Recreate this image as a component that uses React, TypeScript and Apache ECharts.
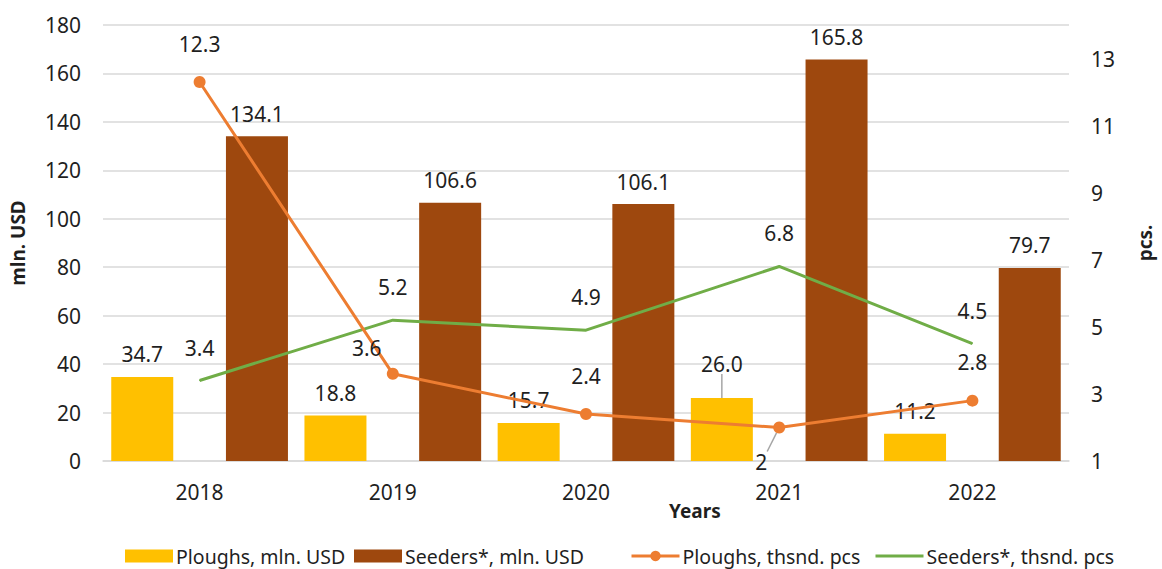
import React, { useEffect, useRef } from "react";
import * as echarts from "echarts";

const years = ["2018", "2019", "2020", "2021", "2022"];
const ploughsUsd = [34.7, 18.8, 15.7, 26.0, 11.2];
const seedersUsd = [134.1, 106.6, 106.1, 165.8, 79.7];
const ploughsPcs = [12.3, 3.6, 2.4, 2, 2.8];
const seedersPcs = [3.4, 5.2, 4.9, 6.8, 4.5];

const FONT = "Noto Sans";
const TXT = "#1f1f1f";

export default function App() {
  const ref = useRef<HTMLDivElement>(null);
  useEffect(() => {
    const chart = echarts.init(ref.current!, null, { renderer: "svg" });
    const lbl = { color: TXT, fontSize: 21, fontFamily: FONT };
    const legendText = { fontSize: 19.5, color: TXT, fontFamily: FONT, padding: [0, 0, 0, -2] };
    const mkLegend = (name: string, left: number, extra: any = {}) => ({
      bottom: 3,
      left,
      padding: 0,
      itemWidth: 48,
      itemHeight: 13,
      textStyle: legendText,
      lineStyle: { width: 3 },
      data: [{ name, ...extra }],
    });
    chart.setOption({
      animation: false,
      textStyle: { fontFamily: FONT },
      grid: { left: 100, right: 82, top: 25, bottom: 108 },
      legend: [
        mkLegend("Ploughs, mln. USD", 125, { icon: "rect" }),
        mkLegend("Seeders*, mln. USD", 354, { icon: "rect" }),
        mkLegend("Ploughs, thsnd. pcs", 630),
        mkLegend("Seeders*, thsnd. pcs", 874, { itemStyle: { opacity: 0 } }),
      ],
      xAxis: {
        type: "category",
        data: years,
        axisTick: { show: false },
        axisLine: { lineStyle: { color: "#d9d9d9", width: 1.5 } },
        axisLabel: { ...lbl, margin: 20 },
      },
      yAxis: [
        {
          type: "value",
          min: 0,
          max: 180,
          interval: 20,
          name: "mln. USD",
          nameLocation: "middle",
          nameRotate: 90,
          nameGap: 76,
          nameTextStyle: { fontSize: 19, fontWeight: "bold", color: TXT, fontFamily: FONT },
          axisLabel: { ...lbl, margin: 22 },
          splitLine: { lineStyle: { color: "#d9d9d9", width: 1.5 } },
          axisLine: { show: false },
          axisTick: { show: false },
        },
        {
          type: "value",
          min: 1,
          max: 14,
          interval: 2,
          name: "pcs.",
          nameLocation: "middle",
          nameRotate: 90,
          nameGap: 66,
          nameTextStyle: { fontSize: 19, fontWeight: "bold", color: TXT, fontFamily: FONT },
          axisLabel: { ...lbl, margin: 22, showMaxLabel: false },
          splitLine: { show: false },
          axisLine: { show: false },
          axisTick: { show: false },
        },
      ],
      series: [
        {
          name: "Ploughs, mln. USD",
          type: "bar",
          data: ploughsUsd.map((v, i) =>
            i === 3
              ? {
                  value: v,
                  labelLine: { show: true, lineStyle: { color: "#a6a6a6", width: 1.5 } },
                }
              : v
          ),
          labelLayout: (p: any) => (p.dataIndex === 3 ? { dy: -12 } : {}),
          itemStyle: { color: "#FFC000" },
          barWidth: 62,
          barGap: "85%",
          label: { show: true, position: "top", distance: 12, formatter: (p: any) => p.value.toFixed(1), ...lbl },
          z: 2,
        },
        {
          name: "Seeders*, mln. USD",
          type: "bar",
          data: seedersUsd,
          itemStyle: { color: "#9E480E" },
          barWidth: 62,
          label: { show: true, position: "top", distance: 12, formatter: (p: any) => p.value.toFixed(1), ...lbl },
          z: 2,
        },
        {
          name: "Ploughs, thsnd. pcs",
          type: "line",
          yAxisIndex: 1,
          data: ploughsPcs.map((v, i) =>
            i === 1
              ? { value: v, label: { offset: [-26, 13] } }
              : i === 3
              ? {
                  value: v,
                  label: { position: "bottom", offset: [-18, -4] },
                  labelLine: { show: true, lineStyle: { color: "#a6a6a6", width: 1.5 } },
                }
              : v
          ),
          itemStyle: { color: "#ED7D31" },
          lineStyle: { color: "#ED7D31", width: 3 },
          symbol: "circle",
          symbolSize: 12,
          label: { show: true, position: "top", distance: 22, ...lbl },
          z: 4,
        },
        {
          name: "Seeders*, thsnd. pcs",
          type: "line",
          yAxisIndex: 1,
          data: seedersPcs,
          itemStyle: { color: "#70AD47" },
          lineStyle: { color: "#70AD47", width: 3 },
          symbol: "circle",
          symbolSize: 1,
          showSymbol: true,
          label: { show: true, position: "top", distance: 22, formatter: (p: any) => p.value.toFixed(1), ...lbl },
          z: 3,
        },
      ],
      graphic: [
        {
          type: "text",
          left: 669,
          top: 501,
          style: { text: "Years", fontSize: 19, fontWeight: "bold", fill: TXT, fontFamily: FONT },
        },
      ],
    });
    return () => chart.dispose();
  }, []);
  return <div ref={ref} style={{ position: "absolute", left: 0, top: 0, width: 1162, height: 569 }} />;
}
